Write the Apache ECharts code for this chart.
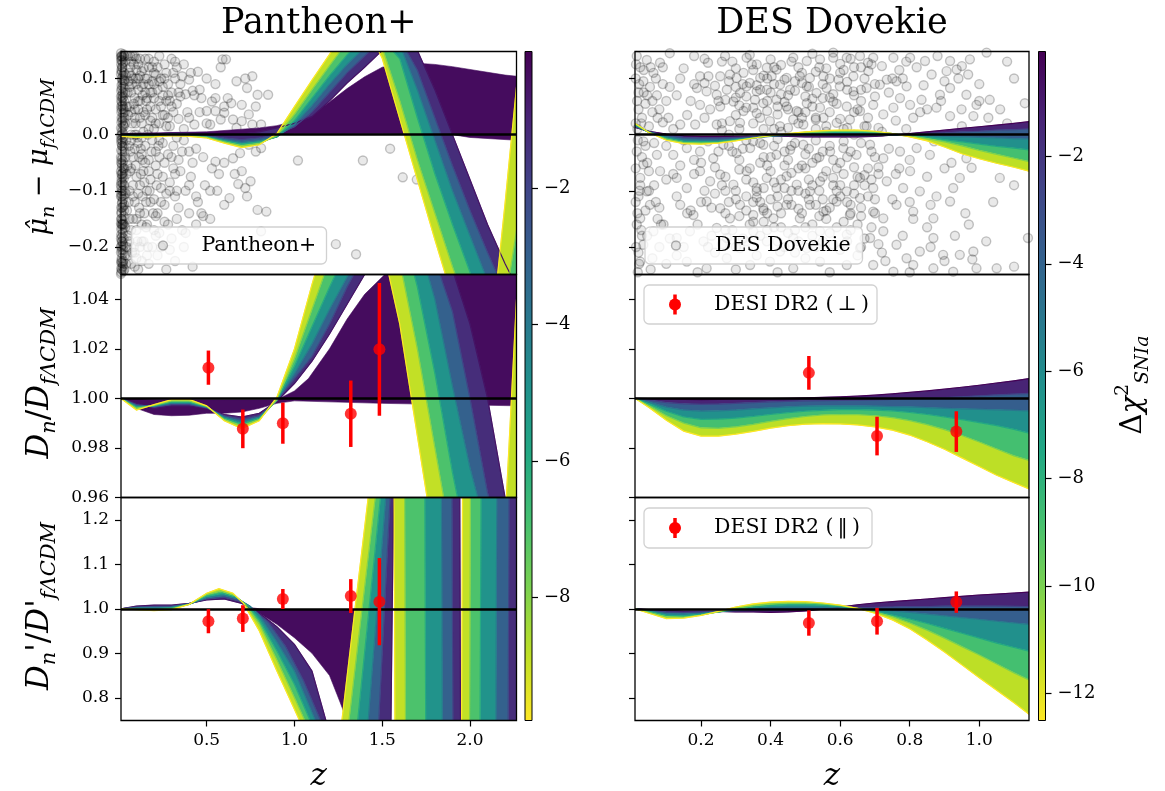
<!DOCTYPE html>
<html>
<head>
<meta charset="utf-8">
<script src="https://cdn.jsdelivr.net/npm/echarts@6/dist/echarts.min.js"></script>
<style>
  html, body { margin: 0; padding: 0; background: #fff; }
  #main { width: 1165px; height: 791px; }
</style>
</head>
<body>
<div id="main"></div>
<script>
// ---------------- data ----------------
const zLeft  = [0.012,0.1,0.2,0.3,0.4,0.5,0.6,0.7,0.8,0.9,1.0,1.1,1.2,1.3,1.4,1.5,1.6,1.7,1.8,1.9,2.0,2.1,2.2,2.265];
const zRight = [0.01,0.05,0.1,0.15,0.2,0.25,0.3,0.35,0.4,0.45,0.5,0.55,0.6,0.65,0.7,0.75,0.8,0.85,0.9,0.95,1.0,1.05,1.1,1.143];

// delta chi2 of the drawn members (yellow -> purple)
const levelsLeft  = [-9.8, -8, -6, -4, -2, -0.5];
const levelsRight = [-12.5, -10, -7.5, -5, -2.5, -0.1];
const massLevel = -0.3;

// Pantheon+ : mu residual, one row per level
const panMu = [
  [-0.003,-0.005,-0.004,-0.002,-0.003,-0.006,-0.015,-0.023,-0.018,0.002,0.05,0.097,0.143,0.19,0.2,0.136,0.028,-0.08,-0.187,-0.29,-0.36,-0.42,-0.122,0.085],
  [-0.002,-0.004,-0.003,-0.001,-0.002,-0.005,-0.013,-0.02,-0.016,-0.002,0.036,0.08,0.123,0.165,0.19,0.155,0.06,-0.045,-0.14,-0.235,-0.32,-0.4,-0.3,-0.17],
  [-0.001,-0.003,-0.002,0.0,-0.001,-0.004,-0.011,-0.017,-0.013,-0.004,0.025,0.065,0.105,0.142,0.175,0.17,0.135,0.03,-0.07,-0.16,-0.245,-0.33,-0.38,-0.4],
  [0.0,-0.002,-0.001,0.001,0.0,-0.003,-0.009,-0.014,-0.011,-0.004,0.018,0.052,0.09,0.125,0.155,0.175,0.16,0.08,-0.01,-0.1,-0.18,-0.26,-0.34,-0.38],
  [0.001,-0.001,0.0,0.002,0.001,-0.002,-0.006,-0.009,-0.006,0.0,0.014,0.04,0.075,0.11,0.14,0.17,0.17,0.115,0.03,-0.055,-0.135,-0.21,-0.28,-0.32],
  [0.002,0.0,0.001,0.003,0.003,0.002,0.0,0.001,0.005,0.012,0.02,0.032,0.06,0.092,0.12,0.15,0.17,0.15,0.08,0.0,-0.08,-0.16,-0.23,-0.27]
];
const panMuMassU = [[0.012,0.002],[0.5,0.005],[0.8,0.012],[0.9,0.016],[1.0,0.024],[1.1,0.035],[1.2,0.058],[1.3,0.082],[1.4,0.103],[1.5,0.12],[1.6,0.126],[1.7,0.127],[1.8,0.125],[1.9,0.121],[2.0,0.116],[2.1,0.111],[2.2,0.106],[2.265,0.104]];
const panMuMassL = [[0.012,-0.002],[0.5,-0.002],[0.8,0.0],[1.0,0.002],[1.5,0.002],[1.9,0.0],[2.0,-0.005],[2.265,-0.01]];

// Pantheon+ : D / D_fLCDM
const panDm = [
  [1.0,0.9953,0.9975,0.9995,0.9996,0.997,0.991,0.9878,0.991,1.0005,1.02,1.046,1.07,1.085,1.08,1.062,1.03,0.985,0.94,0.9,0.87,0.88,0.95,1.04],
  [1.0,0.996,0.9972,0.999,0.999,0.9968,0.9915,0.9888,0.9915,0.9995,1.016,1.036,1.056,1.07,1.08,1.075,1.055,1.02,0.98,0.94,0.91,0.9,0.92,0.96],
  [1.0,0.9965,0.997,0.9985,0.9985,0.9966,0.992,0.9897,0.992,0.9993,1.013,1.029,1.045,1.06,1.072,1.078,1.072,1.045,1.01,0.97,0.935,0.92,0.905,0.91],
  [1.0,0.997,0.9968,0.998,0.998,0.9964,0.9925,0.9905,0.9925,0.9992,1.01,1.022,1.036,1.049,1.062,1.072,1.075,1.065,1.04,1.005,0.972,0.945,0.925,0.92],
  [1.0,0.9975,0.9965,0.9975,0.9975,0.9962,0.993,0.9915,0.993,0.999,1.008,1.017,1.03,1.045,1.058,1.066,1.07,1.068,1.056,1.035,1.0,0.962,0.935,0.93],
  [1.0,0.998,0.996,0.997,0.997,0.996,0.9935,0.9925,0.994,0.9988,1.006,1.015,1.026,1.038,1.05,1.062,1.07,1.072,1.066,1.052,1.03,1.0,0.96,0.94]
];
const panDmMassU = [[0.012,1.0],[0.3,0.9995],[0.6,0.9995],[0.9,0.9995],[1.0,1.003],[1.08,1.008],[1.2,1.02],[1.3,1.032],[1.4,1.042],[1.5,1.049],[1.6,1.056],[1.8,1.06],[2.265,1.06]];
const panDmMassL = [[0.012,1.0],[0.1,0.996],[0.2,0.9935],[0.3,0.993],[0.4,0.9932],[0.5,0.994],[0.6,0.994],[0.7,0.9945],[0.8,0.996],[0.9,0.998],[1.0,0.999],[1.5,0.998],[2.265,0.997]];

// Pantheon+ : D' / D'_fLCDM  ([z, value] pairs, steep parts need their own z)
const panDp = [
  [[0.012,1.0],[0.1,0.998],[0.2,0.996],[0.3,0.998],[0.4,1.01],[0.5,1.035],[0.57,1.045],[0.65,1.035],[0.71,1.012],[0.8,0.95],[0.9,0.86],[0.97,0.8],[1.03,0.748],[1.1,0.6],[1.2,0.6],[1.27,0.748],[1.345,1.0],[1.42,1.25],[1.5,1.5],[1.565,1.5],[1.575,0.5],[1.95,0.5],[1.96,1.5],[2.265,1.5]],
  [[0.012,1.0],[0.1,0.999],[0.2,0.998],[0.3,1.0],[0.4,1.01],[0.5,1.032],[0.58,1.04],[0.66,1.03],[0.72,1.01],[0.8,0.965],[0.9,0.885],[1.0,0.8],[1.06,0.748],[1.12,0.6],[1.24,0.6],[1.31,0.748],[1.385,1.0],[1.46,1.25],[1.52,1.5],[1.625,1.5],[1.635,0.5],[1.995,0.5],[2.005,1.5],[2.265,1.5]],
  [[0.012,1.0],[0.1,1.0],[0.2,1.0],[0.3,1.002],[0.4,1.01],[0.5,1.028],[0.59,1.035],[0.67,1.026],[0.74,1.005],[0.8,0.975],[0.9,0.905],[1.0,0.83],[1.09,0.748],[1.17,0.6],[1.29,0.6],[1.36,0.748],[1.425,1.0],[1.49,1.25],[1.53,1.5],[1.74,1.5],[1.75,0.5],[2.055,0.5],[2.065,1.5],[2.265,1.5]],
  [[0.012,1.0],[0.1,1.002],[0.2,1.003],[0.3,1.004],[0.4,1.011],[0.5,1.025],[0.6,1.03],[0.68,1.022],[0.75,1.005],[0.8,0.985],[0.9,0.925],[1.0,0.86],[1.12,0.748],[1.2,0.6],[1.35,0.6],[1.42,0.748],[1.47,1.0],[1.52,1.25],[1.55,1.5],[1.835,1.5],[1.845,0.5],[2.145,0.5],[2.155,1.5],[2.265,1.5]],
  [[0.012,1.0],[0.1,1.004],[0.2,1.005],[0.3,1.006],[0.4,1.011],[0.5,1.022],[0.6,1.026],[0.69,1.017],[0.76,1.0],[0.85,0.97],[0.95,0.915],[1.05,0.84],[1.15,0.748],[1.23,0.6],[1.42,0.6],[1.48,0.748],[1.513,1.0],[1.545,1.25],[1.56,1.5],[1.895,1.5],[1.905,0.5],[2.215,0.5],[2.225,1.5],[2.265,1.5]],
  [[0.012,1.0],[0.1,1.006],[0.2,1.008],[0.3,1.008],[0.4,1.012],[0.5,1.02],[0.6,1.022],[0.7,1.012],[0.8,0.99],[0.9,0.96],[1.0,0.92],[1.1,0.86],[1.18,0.748],[1.27,0.6],[1.5,0.6],[1.55,0.748],[1.557,1.0],[1.565,1.25],[1.57,1.5],[1.94,1.5],[1.948,0.5],[2.265,0.5]]
];
const panDpMassU = [[0.7,1.005],[0.8,1.0],[1.0,0.998],[1.2,0.997],[1.35,0.998],[1.4,0.95],[1.45,0.748],[1.5,0.6]];
const panDpMassL = [[0.7,1.005],[0.8,0.99],[0.9,0.965],[1.0,0.935],[1.1,0.9],[1.2,0.85],[1.26,0.79],[1.3,0.748],[1.35,0.6]];

// DES Dovekie
const desMu = [
  [0.02,0.004,-0.01,-0.016,-0.017,-0.015,-0.011,-0.006,-0.002,0.002,0.005,0.007,0.008,0.008,0.006,0.002,-0.004,-0.011,-0.022,-0.034,-0.043,-0.051,-0.058,-0.065],
  [0.019,0.004,-0.008,-0.014,-0.015,-0.014,-0.01,-0.006,-0.002,0.001,0.004,0.005,0.006,0.006,0.005,0.002,-0.002,-0.007,-0.013,-0.02,-0.028,-0.035,-0.042,-0.048],
  [0.017,0.004,-0.006,-0.012,-0.013,-0.012,-0.009,-0.006,-0.002,0.0,0.002,0.003,0.004,0.004,0.003,0.001,-0.002,-0.005,-0.009,-0.013,-0.017,-0.021,-0.024,-0.027],
  [0.016,0.005,-0.004,-0.009,-0.01,-0.01,-0.008,-0.005,-0.003,-0.001,0.0,0.001,0.001,0.001,0.0,-0.001,-0.002,-0.002,-0.003,-0.004,-0.005,-0.006,-0.007,-0.008],
  [0.014,0.005,-0.001,-0.005,-0.006,-0.006,-0.005,-0.004,-0.003,-0.002,-0.002,-0.002,-0.002,-0.002,-0.002,-0.001,0.0,0.002,0.003,0.005,0.006,0.008,0.009,0.01],
  [0.013,0.006,0.001,-0.002,-0.003,-0.003,-0.003,-0.003,-0.003,-0.003,-0.004,-0.004,-0.004,-0.004,-0.003,-0.001,0.002,0.005,0.008,0.011,0.014,0.017,0.02,0.023]
];
const desDm = [
  [1.0,0.9963,0.9912,0.9868,0.9848,0.9848,0.9856,0.9867,0.988,0.989,0.9896,0.9898,0.9897,0.9893,0.9885,0.9872,0.9852,0.9825,0.9795,0.976,0.9725,0.969,0.966,0.9635],
  [1.0,0.997,0.993,0.99,0.9881,0.9879,0.9885,0.9895,0.9907,0.9918,0.9927,0.9933,0.9935,0.9934,0.993,0.9922,0.991,0.9894,0.9874,0.985,0.9824,0.9796,0.9768,0.975],
  [1.0,0.9978,0.9948,0.9925,0.9915,0.9916,0.992,0.9927,0.9935,0.9942,0.9948,0.9952,0.9955,0.9955,0.9953,0.9949,0.9943,0.9935,0.9925,0.9914,0.9902,0.989,0.9875,0.986],
  [1.0,0.9985,0.9965,0.9953,0.9949,0.995,0.9953,0.9958,0.9962,0.9966,0.9969,0.997,0.997,0.997,0.9969,0.9967,0.9966,0.9963,0.996,0.9958,0.9956,0.9954,0.9952,0.995],
  [1.0,0.9993,0.9983,0.9978,0.9976,0.9977,0.998,0.9983,0.9986,0.9988,0.999,0.9991,0.9992,0.9993,0.9994,0.9996,0.9998,1.0,1.0003,1.0006,1.001,1.0014,1.0017,1.002],
  [1.0,0.9999,0.9997,0.9996,0.9995,0.9996,0.9997,0.9998,0.9999,1.0,1.0002,1.0004,1.0006,1.0009,1.0013,1.0018,1.0024,1.003,1.0037,1.0045,1.0053,1.0062,1.0071,1.008]
];
const desDp = [
  [1.0,0.99,0.978,0.979,0.985,0.994,1.004,1.011,1.015,1.0165,1.016,1.013,1.008,1.001,0.99,0.975,0.955,0.93,0.903,0.874,0.845,0.817,0.789,0.763],
  [1.0,0.992,0.982,0.981,0.986,0.993,1.001,1.007,1.011,1.013,1.013,1.011,1.007,1.001,0.993,0.982,0.968,0.952,0.934,0.915,0.896,0.876,0.856,0.84],
  [1.0,0.994,0.985,0.984,0.988,0.993,0.999,1.004,1.007,1.009,1.009,1.008,1.005,1.0,0.994,0.986,0.977,0.967,0.956,0.945,0.934,0.923,0.913,0.905],
  [1.0,0.995,0.989,0.988,0.99,0.993,0.997,1.0,1.002,1.003,1.003,1.003,1.002,1.0,0.998,0.995,0.992,0.988,0.984,0.98,0.976,0.972,0.968,0.965],
  [1.0,0.997,0.993,0.992,0.993,0.994,0.995,0.996,0.997,0.998,0.999,1.0,1.001,1.002,1.003,1.004,1.005,1.005,1.006,1.006,1.006,1.006,1.0055,1.005],
  [1.0,0.998,0.996,0.995,0.995,0.994,0.993,0.993,0.992,0.993,0.995,0.999,1.004,1.009,1.013,1.016,1.019,1.022,1.025,1.028,1.031,1.033,1.0355,1.0375]
];

// DESI DR2 BAO ratios
const desiZ = [0.51, 0.706, 0.934, 1.321, 1.484];
const panPerp = [1.0124, 0.9877, 0.990, 0.9938, 1.0198];
const panPerpErr = [0.0069, 0.0078, 0.0083, 0.0134, 0.0268];
const panPar = [0.972, 0.978, 1.022, 1.0286, 1.016];
const panParErr = [0.027, 0.03, 0.0225, 0.038, 0.098];
const desPerp = [1.0103, 0.9848, 0.9866];
const desPerpErr = [0.0068, 0.0078, 0.0082];
const desPar = [0.968, 0.972, 1.015];
const desParErr = [0.0285, 0.03, 0.024];

// SN residuals [z, mu_hat - mu]
const pantheonPts = [
  [0.014,0.14],[0.02,0.12],[0.016,0.1],[0.025,0.085],[0.018,0.07],[0.03,0.06],[0.015,0.045],[0.022,0.03],[0.028,0.015],[0.017,0.005],[0.024,-0.005],[0.019,-0.02],[0.032,-0.03],[0.015,-0.045],[0.026,-0.06],[0.02,-0.075],[0.03,-0.09],[0.016,-0.1],[0.023,-0.115],[0.018,-0.13],[0.027,-0.145],[0.015,-0.16],[0.022,-0.175],[0.019,-0.19],[0.025,-0.205],[0.016,-0.22],[0.021,-0.235],[0.014,-0.245],
  [0.035,0.13],[0.04,0.105],[0.038,0.075],[0.045,0.05],[0.036,0.02],[0.042,-0.01],[0.037,-0.04],[0.044,-0.07],[0.039,-0.105],[0.046,-0.135],[0.036,-0.165],[0.043,-0.2],[0.04,-0.23],
  [0.05,0.14],[0.055,0.095],[0.052,0.035],[0.058,-0.02],[0.05,-0.055],[0.056,-0.12],[0.053,-0.18],[0.048,-0.215],
  [0.013,0.125],[0.013,0.06],[0.013,-0.01],[0.013,-0.085],[0.013,-0.15],[0.013,-0.2],[0.029,0.11],[0.031,-0.125],[0.027,-0.185],[0.033,0.04],[0.034,-0.215],
  [0.014,0.132],[0.017,0.112],[0.021,0.092],[0.013,0.078],[0.019,0.052],[0.024,0.038],[0.014,0.022],[0.02,0.012],[0.016,-0.008],[0.013,-0.028],[0.021,-0.04],[0.017,-0.058],[0.014,-0.07],[0.022,-0.088],[0.013,-0.105],[0.019,-0.12],[0.015,-0.138],[0.021,-0.152],[0.013,-0.168],[0.018,-0.182],[0.014,-0.198],[0.02,-0.212],[0.013,-0.228],[0.017,-0.24],
  [0.026,0.143],[0.023,0.128],[0.027,0.097],[0.024,0.067],[0.026,0.046],[0.023,0.002],[0.027,-0.022],[0.024,-0.048],[0.028,-0.078],[0.025,-0.108],[0.029,-0.135],[0.024,-0.158],[0.028,-0.198],[0.025,-0.225],[0.026,-0.243],
  [0.012,0.145],[0.015,0.133],[0.018,0.12],[0.012,0.108],[0.02,0.097],[0.015,0.088],[0.012,0.068],[0.018,0.058],[0.014,0.04],[0.02,0.025],[0.012,0.012],[0.016,0.0],[0.014,-0.015],[0.02,-0.03],[0.012,-0.04],[0.017,-0.052],[0.012,-0.065],[0.019,-0.085],[0.014,-0.095],[0.012,-0.11],[0.017,-0.122],[0.014,-0.14],[0.012,-0.158],[0.02,-0.168],[0.013,-0.178],[0.016,-0.19],[0.012,-0.21],[0.018,-0.228],[0.013,-0.238],[0.012,-0.248],
  [0.022,0.138],[0.024,0.105],[0.023,0.075],[0.022,0.05],[0.024,0.018],[0.022,-0.012],[0.023,-0.068],[0.022,-0.1],[0.024,-0.128],[0.022,-0.16],[0.023,-0.195],[0.024,-0.23],
  [0.012,0.138],[0.014,0.115],[0.016,0.082],[0.013,0.05],[0.015,0.03],[0.012,-0.002],[0.018,-0.02],[0.013,-0.05],[0.015,-0.078],[0.012,-0.09],[0.016,-0.11],[0.013,-0.13],[0.015,-0.15],[0.012,-0.185],[0.016,-0.205],[0.014,-0.225],[0.017,0.14],[0.019,0.065],[0.018,-0.07],[0.019,-0.16],[0.03,0.14],[0.032,0.095],[0.03,0.03],[0.031,-0.06],[0.032,-0.1],[0.03,-0.16],[0.031,-0.24],
  [0.07,0.13],[0.09,0.14],[0.11,0.125],[0.13,0.113],[0.15,0.135],[0.17,0.12],[0.2,0.13],[0.23,0.14],[0.26,0.125],[0.3,0.135],[0.33,0.12],[0.08,0.1],[0.1,0.09],[0.12,0.105],[0.14,0.09],[0.16,0.1],[0.19,0.095],[0.21,0.107],[0.24,0.1],[0.28,0.09],[0.32,0.1],[0.36,0.104],[0.4,0.098],[0.45,0.112],[0.5,0.1],[0.55,0.09],[0.59,0.134],[0.61,0.134],[0.58,0.12],[0.67,0.095],[0.72,0.1],[0.76,0.104],
  [0.07,0.075],[0.09,0.065],[0.11,0.08],[0.135,0.07],[0.155,0.06],[0.18,0.075],[0.2,0.065],[0.22,0.08],[0.25,0.07],[0.27,0.06],[0.3,0.075],[0.35,0.068],[0.38,0.072],[0.42,0.078],[0.47,0.065],[0.53,0.059],[0.6,0.05],[0.64,0.056],[0.7,0.053],[0.78,0.05],[0.79,0.071],[0.85,0.071],[0.73,0.083],[0.62,0.065],
  [0.07,0.04],[0.09,0.03],[0.11,0.045],[0.13,0.02],[0.15,0.035],[0.17,0.01],[0.19,0.03],[0.21,0.045],[0.23,0.02],[0.26,0.035],[0.29,0.015],[0.31,0.04],[0.34,0.028],[0.37,0.01],[0.4,0.03],[0.43,0.018],[0.46,0.04],[0.5,0.042],[0.55,0.042],[0.6,0.039],[0.65,0.027],[0.7,0.024],[0.74,0.036],[0.76,0.018],[0.81,0.018],[0.67,0.012],[0.52,0.018],[0.58,0.027],
  [0.07,-0.01],[0.09,-0.025],[0.11,-0.015],[0.13,-0.035],[0.15,-0.02],[0.17,-0.045],[0.19,-0.01],[0.21,-0.03],[0.23,-0.04],[0.25,-0.015],[0.28,-0.035],[0.31,-0.02],[0.34,-0.045],[0.37,-0.01],[0.4,-0.03],[0.44,-0.025],[0.48,-0.04],[0.55,-0.048],[0.6,-0.05],[0.65,-0.042],[0.69,-0.033],[0.74,-0.018],[0.78,-0.03],[0.81,-0.024],[1.02,-0.046],
  [0.07,-0.06],[0.1,-0.075],[0.12,-0.09],[0.14,-0.065],[0.16,-0.1],[0.18,-0.08],[0.2,-0.115],[0.22,-0.07],[0.24,-0.095],[0.26,-0.125],[0.29,-0.085],[0.32,-0.11],[0.35,-0.065],[0.38,-0.1],[0.41,-0.075],[0.45,-0.12],[0.49,-0.09],[0.53,-0.06],[0.56,-0.1],[0.6,-0.125],[0.63,-0.113],[0.66,-0.07],[0.7,-0.065],[0.72,-0.095],[0.75,-0.083],[0.79,-0.134],[0.84,-0.137],[0.73,-0.11],[0.68,-0.088],[1.39,-0.046],[1.545,-0.025],[1.617,-0.076],[1.697,-0.08],
  [0.08,-0.15],[0.1,-0.17],[0.12,-0.14],[0.14,-0.19],[0.16,-0.16],[0.19,-0.2],[0.21,-0.145],[0.23,-0.175],[0.26,-0.155],[0.3,-0.185],[0.33,-0.15],[0.36,-0.17],[0.4,-0.14],[0.44,-0.16],[0.48,-0.145],[0.52,-0.15],[0.09,-0.21],[0.13,-0.225],[0.17,-0.23],[0.22,-0.215],[0.27,-0.24],[0.32,-0.225],[0.37,-0.2],[0.42,-0.235],[0.11,-0.24],[0.81,-0.172],[1.236,-0.195],[1.351,-0.213],[0.29,-0.205],[0.06,-0.19],
  [0.065,0.12],[0.075,0.09],[0.085,0.055],[0.095,0.02],[0.105,-0.005],[0.115,-0.04],[0.125,-0.07],[0.135,-0.11],[0.145,-0.14],[0.155,-0.165],[0.165,-0.2],[0.06,0.05],[0.065,-0.03],[0.08,-0.09],[0.09,-0.12],[0.1,-0.15],[0.11,0.06],[0.12,0.03],[0.13,-0.005],[0.14,0.118],[0.15,0.075],[0.16,0.045],[0.17,-0.065],[0.18,-0.12],[0.19,0.12],[0.2,0.01],[0.21,-0.055],[0.22,-0.14],[0.23,0.095],[0.24,0.05],[0.25,-0.075],[0.26,0.1],[0.27,0.015],[0.28,-0.16],[0.29,0.06],[0.3,-0.04],[0.31,0.11],[0.32,-0.07],[0.33,0.055],[0.34,-0.13],[0.35,0.09],[0.36,-0.03],[0.37,0.125],[0.38,-0.175],[0.39,0.04],[0.4,-0.09],[0.41,0.11],[0.42,-0.05],[0.43,0.07],[0.44,-0.11],[0.46,0.08],[0.47,-0.14],[0.5,0.02],[0.52,-0.1],[0.55,0.065],[0.57,-0.07],
  [0.08,0.14],[0.1,0.115],[0.12,0.135],[0.17,0.09],[0.2,0.11],[0.25,0.035],[0.11,-0.105],[0.13,-0.16],[0.15,-0.05],[0.18,0.025],[0.21,-0.18],[0.27,-0.105],[0.07,-0.17],[0.09,0.0],[0.14,0.005],[0.23,-0.01],[0.28,0.07],[0.33,-0.005],[0.05,0.075],[0.06,-0.1],[0.07,0.0],[0.08,-0.04],[0.06,0.11],[0.075,-0.21],[0.09,-0.235],[0.12,-0.2],
  [0.06,0.085],[0.065,-0.065],[0.07,0.105],[0.075,0.02],[0.08,-0.11],[0.085,0.125],[0.09,0.045],[0.095,-0.055],[0.1,0.135],[0.1,0.0],[0.105,-0.19],[0.11,0.1],[0.115,-0.13],[0.12,0.06],[0.125,-0.025],[0.13,0.085],[0.135,-0.045],[0.14,0.04],[0.145,-0.085],[0.15,0.1],[0.155,-0.12],[0.16,0.065],[0.165,0.0],[0.17,0.135],[0.175,-0.1],[0.18,0.05],[0.185,-0.03],[0.19,0.075],[0.195,-0.14],[0.2,0.09],[0.21,0.02],[0.215,-0.09],[0.22,0.12],[0.225,-0.02],[0.23,0.06],[0.24,-0.12],[0.25,0.085],[0.26,-0.05],[0.27,0.11],[0.28,0.03],[0.29,-0.1],[0.3,0.05],[0.31,-0.06],[0.32,0.13],[0.33,-0.1],[0.34,0.075],[0.06,-0.15],[0.07,-0.23],[0.085,-0.2],[0.1,-0.22],[0.13,-0.19],[0.16,-0.215],[0.2,-0.17],[0.24,-0.2],[0.065,0.14],[0.095,0.1]
];
const dovekiePts = [
  [0.269,0.14],[0.331,0.137],[0.36,0.125],[0.346,0.125],[0.389,0.119],[0.417,0.116],[0.465,0.137],[0.504,0.131],[0.542,0.134],[0.58,0.137],[0.619,0.137],[0.657,0.14],[0.695,0.137],[0.753,0.137],[0.801,0.137],[0.844,0.131],[0.916,0.131],[0.973,0.134],[1.021,0.146],[0.935,0.116],[0.968,0.107],[0.906,0.113],[0.863,0.107],[0.082,0.128],
  [0.197,0.104],[0.221,0.104],[0.255,0.104],[0.283,0.107],[0.302,0.101],[0.322,0.11],[0.37,0.101],[0.403,0.104],[0.446,0.101],[0.484,0.104],[0.513,0.101],[0.552,0.104],[0.595,0.098],[0.638,0.104],[0.681,0.113],[0.734,0.098],[0.762,0.095],
  [0.188,0.083],[0.216,0.077],[0.245,0.071],[0.274,0.08],[0.312,0.074],[0.331,0.086],[0.36,0.077],[0.389,0.08],[0.427,0.089],[0.456,0.08],[0.504,0.086],[0.532,0.074],[0.561,0.083],[0.599,0.086],[0.638,0.077],[0.676,0.083],[0.714,0.089],[0.791,0.086],[0.887,0.071],[0.916,0.083],[0.963,0.071],[1.03,0.062],[1.131,0.056],[0.992,0.053],[0.949,0.045],[0.877,0.048],[0.834,0.062],[0.801,0.053],[0.772,0.065],
  [0.14,0.018],[0.183,0.018],[0.106,0.03],[0.197,0.053],[0.226,0.045],[0.255,0.05],[0.293,0.059],[0.322,0.042],[0.35,0.048],[0.379,0.056],[0.417,0.062],[0.446,0.05],[0.475,0.042],[0.504,0.056],[0.542,0.048],[0.58,0.059],[0.619,0.05],[0.657,0.042],[0.695,0.053],[0.724,0.036],[0.753,0.048],[0.81,0.03],[0.983,0.033],[1.026,0.03],[0.916,0.033],
  [0.245,0.018],[0.283,0.024],[0.312,0.021],[0.37,0.03],[0.398,0.024],[0.427,0.015],[0.465,0.027],[0.494,0.018],[0.552,0.03],[0.59,0.021],[0.628,0.027],[0.676,0.015],
  [0.015,0.14],[0.025,0.12],[0.044,0.133],[0.063,0.11],[0.034,0.095],[0.053,0.085],[0.073,0.07],[0.02,0.075],[0.04,0.055],[0.06,0.04],[0.03,0.03],[0.05,0.015],[0.08,0.045],[0.017,0.01],[0.07,0.1],[0.09,0.09],[0.1,0.06],
  [0.034,-0.012],[0.073,-0.036],[0.034,-0.053],[0.025,-0.077],[0.044,-0.101],[0.053,-0.125],[0.025,-0.149],[0.063,-0.172],[0.034,-0.196],[0.025,-0.226],
  [0.015,-0.03],[0.05,-0.065],[0.02,-0.11],[0.065,-0.09],[0.015,-0.16],[0.045,-0.18],[0.02,-0.21],[0.055,-0.24],[0.075,-0.15],[0.08,-0.2],[0.04,-0.02],[0.018,-0.245],
  [0.12,-0.036],[0.159,-0.024],[0.197,-0.03],[0.235,-0.042],[0.264,-0.018],[0.302,-0.033],[0.341,-0.024],[0.379,-0.018],[0.417,-0.036],[0.456,-0.027],[0.494,-0.018],[0.532,-0.042],[0.571,-0.03],[0.609,-0.024],[0.647,-0.036],[0.686,-0.018],[0.724,-0.042],[0.772,-0.03],[0.82,-0.024],[0.858,-0.036],[0.935,-0.018],[0.963,-0.042],
  [0.082,-0.065],[0.13,-0.077],[0.159,-0.095],[0.197,-0.065],[0.226,-0.083],[0.255,-0.071],[0.293,-0.089],[0.331,-0.065],[0.36,-0.101],[0.389,-0.077],[0.417,-0.095],[0.446,-0.074],[0.475,-0.089],[0.513,-0.101],[0.542,-0.083],[0.58,-0.077],[0.619,-0.101],[0.657,-0.077],[0.695,-0.095],[0.734,-0.083],[0.781,-0.095],[0.829,-0.101],[0.877,-0.11],[0.925,-0.095],[1.059,-0.077],[0.978,-0.059],[0.944,-0.077],[0.801,-0.065],
  [0.14,-0.125],[0.178,-0.143],[0.216,-0.119],[0.255,-0.131],[0.283,-0.149],[0.312,-0.125],[0.35,-0.143],[0.379,-0.131],[0.408,-0.149],[0.446,-0.125],[0.484,-0.149],[0.513,-0.125],[0.552,-0.137],[0.59,-0.119],[0.628,-0.143],[0.657,-0.113],[0.695,-0.137],[0.724,-0.149],[0.762,-0.125],[0.81,-0.137],[0.868,-0.149],[0.916,-0.119],
  [0.092,-0.16],[0.13,-0.184],[0.168,-0.172],[0.207,-0.19],[0.245,-0.166],[0.274,-0.184],[0.312,-0.202],[0.35,-0.172],[0.389,-0.19],[0.427,-0.208],[0.465,-0.184],[0.504,-0.202],[0.542,-0.172],[0.58,-0.196],[0.619,-0.178],[0.657,-0.202],[0.686,-0.184],[0.724,-0.172],[0.762,-0.196],[0.791,-0.22],[0.829,-0.208],[0.868,-0.184],[0.896,-0.214],[0.944,-0.214],[0.983,-0.208],[1.14,-0.184],[0.992,-0.238],[1.05,-0.238],
  [0.159,-0.226],[0.216,-0.238],[0.274,-0.22],[0.341,-0.232],[0.398,-0.226],[0.465,-0.238],[0.542,-0.226],[0.619,-0.232],[0.695,-0.232],[0.753,-0.244],[0.81,-0.232],[0.868,-0.238],[0.925,-0.244],
  [0.32,0.09],[0.355,0.062],[0.39,0.1],[0.43,0.072],[0.47,0.095],[0.5,0.068],[0.53,0.112],[0.57,0.066],[0.61,0.115],[0.64,0.07],[0.36,0.038],[0.41,0.01],[0.45,0.045],[0.49,0.03],[0.53,0.01],[0.57,0.04],[0.62,0.012],[0.66,0.06],
  [0.33,-0.01],[0.37,-0.05],[0.4,-0.04],[0.44,-0.055],[0.48,-0.06],[0.52,-0.05],[0.56,-0.065],[0.6,-0.05],[0.64,-0.058],[0.68,-0.06],[0.33,-0.11],[0.37,-0.12],[0.42,-0.11],[0.46,-0.1],[0.5,-0.105],[0.55,-0.115],[0.59,-0.1],[0.63,-0.125],[0.67,-0.09],[0.7,-0.115],
  [0.34,-0.16],[0.38,-0.155],[0.43,-0.165],[0.47,-0.17],[0.52,-0.16],[0.56,-0.15],[0.61,-0.155],[0.65,-0.16],[0.27,-0.1],[0.25,0.06],[0.29,0.13],[0.22,-0.2],[0.58,0.146],[0.66,0.12],
  [0.18,0.14],[0.22,0.128],[0.3,0.118],[0.34,0.142],[0.4,0.134],[0.43,0.124],[0.48,0.12],[0.52,0.144],[0.56,0.118],[0.6,0.126],[0.64,0.12],[0.68,0.128],[0.72,0.122],[0.77,0.115],[0.82,0.12],[0.88,0.14],[0.95,0.122],[1.08,0.13],[0.11,0.145],[0.15,0.118],
  [0.17,0.06],[0.21,0.092],[0.24,0.087],[0.27,0.062],[0.3,0.066],[0.34,0.092],[0.37,0.08],[0.41,0.09],[0.44,0.058],[0.47,0.078],[0.49,0.092],[0.52,0.064],[0.55,0.09],[0.58,0.072],[0.62,0.094],[0.66,0.08],[0.7,0.068],[0.74,0.075],[0.78,0.1],[0.84,0.088],[0.9,0.095],[1.0,0.09],[1.1,0.1],[0.13,0.07],[0.06,0.06],
  [0.16,0.035],[0.21,0.03],[0.26,0.008],[0.3,0.035],[0.33,0.048],[0.39,0.042],[0.42,0.036],[0.45,0.012],[0.5,0.04],[0.53,0.027],[0.56,0.015],[0.6,0.028],[0.64,0.04],[0.68,0.03],[0.71,0.012],[0.76,0.025],[0.79,0.01],[0.85,0.045],[0.95,0.015],[1.06,0.045],[0.12,0.01],[0.09,0.022],
  [0.15,-0.01],[0.18,-0.045],[0.22,-0.012],[0.25,-0.03],[0.28,-0.02],[0.31,-0.045],[0.35,-0.012],[0.38,-0.04],[0.42,-0.008],[0.44,-0.03],[0.47,-0.015],[0.5,-0.035],[0.53,-0.01],[0.55,-0.03],[0.58,-0.045],[0.61,-0.012],[0.63,-0.03],[0.66,-0.015],[0.7,-0.04],[0.74,-0.025],[0.8,-0.045],[0.87,-0.012],[1.0,-0.03],[1.1,-0.02],[0.1,-0.02],
  [0.14,-0.055],[0.18,-0.07],[0.21,-0.1],[0.24,-0.058],[0.27,-0.075],[0.31,-0.062],[0.35,-0.085],[0.38,-0.095],[0.4,-0.065],[0.43,-0.08],[0.46,-0.068],[0.49,-0.055],[0.52,-0.09],[0.55,-0.075],[0.58,-0.09],[0.61,-0.07],[0.64,-0.09],[0.67,-0.072],[0.71,-0.058],[0.76,-0.07],[0.85,-0.075],[0.9,-0.06],[1.1,-0.09],[0.1,-0.08],
  [0.13,-0.11],[0.17,-0.135],[0.2,-0.12],[0.24,-0.105],[0.27,-0.14],[0.3,-0.115],[0.33,-0.135],[0.36,-0.112],[0.39,-0.14],[0.42,-0.128],[0.45,-0.115],[0.48,-0.132],[0.51,-0.115],[0.54,-0.145],[0.57,-0.13],[0.6,-0.11],[0.63,-0.14],[0.66,-0.13],[0.7,-0.14],[0.75,-0.115],[0.8,-0.12],[0.86,-0.125],[0.96,-0.14],[0.08,-0.13],
  [0.15,-0.2],[0.19,-0.16],[0.23,-0.18],[0.26,-0.195],[0.29,-0.17],[0.32,-0.185],[0.37,-0.18],[0.41,-0.165],[0.44,-0.2],[0.48,-0.19],[0.52,-0.18],[0.55,-0.19],[0.59,-0.165],[0.62,-0.19],[0.67,-0.185],[0.71,-0.195],[0.78,-0.18],[0.85,-0.165],[0.93,-0.18],[1.02,-0.19],[0.11,-0.185],
  [0.13,-0.215],[0.19,-0.245],[0.24,-0.21],[0.3,-0.24],[0.36,-0.215],[0.42,-0.245],[0.5,-0.22],[0.57,-0.245],[0.65,-0.215],[0.73,-0.225],[0.8,-0.245],[0.9,-0.225],[0.98,-0.222],[1.1,-0.235],
  [0.012,0.1],[0.02,0.045],[0.03,-0.04],[0.012,-0.12],[0.028,-0.17],[0.04,-0.135],[0.035,0.115],[0.06,-0.22],[0.012,0.02],[0.045,0.07],[0.025,-0.09],[0.07,-0.12],
  [0.26,0.13],[0.28,0.095],[0.3,0.085],[0.31,0.052],[0.33,0.068],[0.35,0.115],[0.36,0.088],[0.38,0.105],[0.39,0.06],[0.4,0.075],[0.41,0.12],[0.42,0.05],[0.44,0.098],[0.45,0.07],[0.46,0.13],[0.48,0.04],[0.49,0.11],[0.51,0.085],[0.52,0.05],[0.54,0.12],[0.55,0.065],[0.57,0.1],[0.59,0.055],[0.6,0.11],[0.62,0.08],[0.63,0.135],[0.65,0.045],[0.67,0.1],[0.69,0.125],[0.7,0.09],
  [0.26,0.02],[0.28,0.0],[0.29,-0.03],[0.31,0.01],[0.32,-0.025],[0.34,-0.06],[0.35,0.02],[0.37,-0.015],[0.38,0.01],[0.39,-0.055],[0.41,-0.02],[0.43,0.005],[0.45,-0.045],[0.46,-0.02],[0.48,0.02],[0.5,-0.06],[0.51,-0.025],[0.53,0.03],[0.54,-0.04],[0.56,0.005],[0.57,-0.02],[0.59,-0.06],[0.61,0.01],[0.62,-0.04],[0.64,0.0],[0.65,-0.075],[0.67,0.015],[0.69,-0.03],[0.71,-0.07],[0.72,0.005],
  [0.26,-0.09],[0.28,-0.12],[0.3,-0.1],[0.31,-0.145],[0.33,-0.08],[0.35,-0.12],[0.36,-0.095],[0.38,-0.135],[0.4,-0.115],[0.41,-0.085],[0.43,-0.14],[0.44,-0.095],[0.46,-0.125],[0.48,-0.1],[0.49,-0.14],[0.51,-0.08],[0.53,-0.125],[0.54,-0.1],[0.56,-0.135],[0.58,-0.115],[0.6,-0.09],[0.62,-0.12],[0.64,-0.105],[0.66,-0.145],[0.68,-0.11],[0.69,-0.08],
  [0.27,-0.17],[0.3,-0.2],[0.33,-0.19],[0.35,-0.155],[0.39,-0.17],[0.42,-0.19],[0.45,-0.175],[0.47,-0.21],[0.5,-0.165],[0.53,-0.2],[0.57,-0.175],[0.6,-0.205],[0.63,-0.17],[0.66,-0.2],[0.69,-0.165],[0.72,-0.21],
  [0.013,0.125],[0.022,0.09],[0.016,0.06],[0.028,0.02],[0.018,-0.01],[0.012,-0.06],[0.023,-0.1],[0.017,-0.14],[0.03,-0.18],[0.013,-0.2],[0.022,-0.23],[0.035,0.075],[0.045,-0.05],[0.05,-0.1],[0.055,0.12],[0.065,-0.015],[0.075,0.03],[0.085,-0.16],[0.09,0.12],[0.1,-0.23],[0.11,0.085],[0.12,-0.07],[0.14,0.1],[0.16,-0.14],[0.18,0.09],[0.2,-0.05],[0.21,0.135],[0.23,-0.13],
  [0.75,0.1],[0.77,-0.06],[0.79,0.13],[0.81,-0.15],[0.83,0.04],[0.86,-0.2],[0.89,0.06],[0.92,-0.05],[0.94,0.1],[0.97,-0.16],[1.0,0.06],[1.04,-0.12],[1.08,0.02],[1.12,-0.05]
];

// ---------------- layout / style ----------------
const FONT = 'DejaVu Serif';
const colL = { left: 121, width: 395.5, x: [0.012, 2.265], ticks: [0.5, 1.0, 1.5, 2.0] };
const colR = { left: 635, width: 394, x: [0.01, 1.143], ticks: [0.2, 0.4, 0.6, 0.8, 1.0] };
const rowTop = [51.5, 274.5, 497.5], rowH = 223;
const yRange = [[-0.249, 0.148], [0.96, 1.05], [0.749, 1.25]];
const yTicks = [[-0.2, -0.1, 0.0, 0.1], [0.96, 0.98, 1.0, 1.02, 1.04], [0.8, 0.9, 1.0, 1.1, 1.2]];
const yDec = [1, 2, 1];
const refVal = [0, 1, 1];
const cbL = { left: 525, range: [-9.8, 0], ticks: [-8, -6, -4, -2] };
const cbR = { left: 1038.5, range: [-12.5, -0.05], ticks: [-12, -10, -8, -6, -4, -2] };

const VIRIDIS = ['#440154','#482475','#414487','#355f8d','#2a788e','#21918c','#22a884','#44bf70','#7ad151','#bddf26','#fde725'];
function rgb(h) { return [parseInt(h.slice(1,3),16), parseInt(h.slice(3,5),16), parseInt(h.slice(5,7),16)]; }
// reversed viridis: values near the top of the bar (close to 0) are purple
function cmap(v, lo, hi) {
  let t = (hi - v) / (hi - lo);
  t = Math.max(0, Math.min(1, t));
  const f = t * 10, i = Math.min(9, Math.floor(f)), w = f - i;
  const a = rgb(VIRIDIS[i]), b = rgb(VIRIDIS[i + 1]);
  return 'rgb(' + a.map((c, k) => Math.round(c + (b[k] - c) * w)).join(',') + ')';
}
function fmt(v, d) { return (v < 0 ? '\u2212' : '') + Math.abs(v).toFixed(d); }
function pairs(zs, vs) { return vs.map((v, i) => [zs[i], v]); }

function panelShapes(curves, levels, range, massU, massL) {
  const shapes = [];
  if (massU) shapes.push({ kind: 'polygon', pts: massU.concat(massL.slice().reverse()), color: cmap(massLevel, range[0], range[1]) });
  for (let k = curves.length - 2; k >= 0; k--) {
    shapes.push({ kind: 'polygon', pts: curves[k].concat(curves[k + 1].slice().reverse()),
      color: cmap((levels[k] + levels[k + 1]) / 2, range[0], range[1]) });
  }
  for (let k = curves.length - 1; k >= 0; k--) {
    shapes.push({ kind: 'polyline', pts: curves[k], color: cmap(levels[k], range[0], range[1]) });
  }
  return shapes;
}

function curveSeries(idx, shapes) {
  return {
    type: 'custom', xAxisIndex: idx, yAxisIndex: idx, clip: true, silent: true, z: 3,
    data: shapes.map((s, i) => [i]),
    renderItem: (params, api) => {
      const s = shapes[params.dataIndex];
      const pts = s.pts.map(p => api.coord(p));
      if (s.kind === 'polygon') {
        return { type: 'polygon', shape: { points: pts }, style: { fill: s.color, stroke: s.color, lineWidth: 0.6 } };
      }
      return { type: 'polyline', shape: { points: pts }, style: { fill: 'none', stroke: s.color, lineWidth: 1.2 } };
    }
  };
}

function errSeries(idx, zs, vs, es) {
  return [{
    type: 'custom', xAxisIndex: idx, yAxisIndex: idx, silent: true, z: 8,
    data: zs.slice(0, vs.length).map((z, i) => [z, vs[i] - es[i], vs[i] + es[i]]),
    encode: { x: 0, y: [1, 2] },
    renderItem: (params, api) => {
      const a = api.coord([api.value(0), api.value(1)]);
      const b = api.coord([api.value(0), api.value(2)]);
      return { type: 'line', shape: { x1: a[0], y1: a[1], x2: b[0], y2: b[1] }, style: { stroke: '#ff0000', lineWidth: 3.5 } };
    }
  }, {
    type: 'scatter', xAxisIndex: idx, yAxisIndex: idx, silent: true, z: 9,
    data: pairs(zs, vs), symbolSize: 12, itemStyle: { color: '#ff0000' }
  }];
}

function refSeries(idx, v) {
  return {
    type: 'line', xAxisIndex: idx, yAxisIndex: idx, data: [], z: 6, silent: true,
    markLine: { silent: true, symbol: ['none', 'none'], label: { show: false }, animation: false,
      lineStyle: { color: '#000', width: 2.6, type: 'solid' }, data: [{ yAxis: v }] }
  };
}

// ---------------- grids & axes ----------------
const grids = [], xAxes = [], yAxes = [];
[colL, colR].forEach((col, c) => {
  for (let r = 0; r < 3; r++) {
    const idx = c * 3 + r;
    grids.push({ left: col.left, top: rowTop[r], width: col.width, height: rowH, show: false, outerBoundsMode: 'none' });
    const bottomRow = r === 2;
    xAxes.push({
      type: 'value', gridIndex: idx, min: col.x[0], max: col.x[1],
      axisLine: { show: false }, splitLine: { show: false },
      axisTick: { show: bottomRow, customValues: col.ticks, length: 6, lineStyle: { color: '#000', width: 1.2 } },
      axisLabel: { show: bottomRow, customValues: col.ticks, formatter: v => fmt(v, 1), color: '#000',
        fontFamily: FONT, fontSize: 17, margin: 12 }
    });
    yAxes.push({
      type: 'value', gridIndex: idx, min: yRange[r][0], max: yRange[r][1],
      axisLine: { show: false }, splitLine: { show: false },
      axisTick: { show: true, customValues: yTicks[r], length: 6, lineStyle: { color: '#000', width: 1.2 } },
      axisLabel: { show: c === 0, customValues: yTicks[r], formatter: v => fmt(v, yDec[r]), color: '#000',
        fontFamily: FONT, fontSize: 17, margin: 12 }
    });
  }
});
// colour bars
[cbL, cbR].forEach((cb, c) => {
  const idx = 6 + c;
  grids.push({ left: cb.left, top: rowTop[0], width: 7, height: rowH * 3, show: false, outerBoundsMode: 'none' });
  xAxes.push({ type: 'category', gridIndex: idx, data: ['cb'], show: false });
  yAxes.push({
    type: 'value', gridIndex: idx, position: 'right', min: cb.range[0], max: cb.range[1],
    axisLine: { show: false }, splitLine: { show: false },
    axisTick: { show: true, customValues: cb.ticks, length: 6, lineStyle: { color: '#000', width: 1.2 } },
    axisLabel: { customValues: cb.ticks, formatter: v => fmt(v, 0), color: '#000', fontFamily: FONT, fontSize: 18, margin: 12 }
  });
});

// ---------------- series ----------------
const sn = { color: 'rgba(0,0,0,0.11)', borderColor: 'rgba(0,0,0,0.28)', borderWidth: 1.4 };
const series = [];
series.push({ type: 'scatter', xAxisIndex: 0, yAxisIndex: 0, data: pantheonPts, symbolSize: 9, silent: true, z: 2, itemStyle: sn });
series.push({ type: 'scatter', xAxisIndex: 3, yAxisIndex: 3, data: dovekiePts, symbolSize: 9, silent: true, z: 2, itemStyle: sn });

series.push(curveSeries(0, panelShapes(panMu.map(c => pairs(zLeft, c)), levelsLeft, cbL.range, panMuMassU, panMuMassL)));
series.push(curveSeries(1, panelShapes(panDm.map(c => pairs(zLeft, c)), levelsLeft, cbL.range, panDmMassU, panDmMassL)));
series.push(curveSeries(2, panelShapes(panDp, levelsLeft, cbL.range, panDpMassU, panDpMassL)));
series.push(curveSeries(3, panelShapes(desMu.map(c => pairs(zRight, c)), levelsRight, cbR.range)));
series.push(curveSeries(4, panelShapes(desDm.map(c => pairs(zRight, c)), levelsRight, cbR.range)));
series.push(curveSeries(5, panelShapes(desDp.map(c => pairs(zRight, c)), levelsRight, cbR.range)));

for (let i = 0; i < 6; i++) series.push(refSeries(i, refVal[i % 3]));

series.push(...errSeries(1, desiZ, panPerp, panPerpErr));
series.push(...errSeries(2, desiZ, panPar, panParErr));
series.push(...errSeries(4, desiZ, desPerp, desPerpErr));
series.push(...errSeries(5, desiZ, desPar, desParErr));

[cbL, cbR].forEach((cb, c) => {
  const stops = VIRIDIS.map((col, i) => ({ offset: i / 10, color: col }));
  series.push({
    type: 'bar', xAxisIndex: 6 + c, yAxisIndex: 6 + c, data: [cb.range[0]], barWidth: '100%', silent: true,
    itemStyle: { color: new echarts.graphic.LinearGradient(0, rowTop[0], 0, rowTop[0] + rowH * 3, stops, true) }
  });
});

// ---------------- frames, titles, labels, legends ----------------
const graphic = [];
[colL, colR].forEach(col => {
  rowTop.forEach(t => graphic.push({ type: 'rect', z: 50, silent: true,
    shape: { x: col.left, y: t, width: col.width, height: rowH }, style: { fill: 'none', stroke: '#000', lineWidth: 1.3 } }));
});
[cbL, cbR].forEach(cb => graphic.push({ type: 'rect', z: 50, silent: true,
  shape: { x: cb.left, y: rowTop[0], width: 7, height: rowH * 3 }, style: { fill: 'none', stroke: '#000', lineWidth: 1 } }));

function txt(x, y, text, size, extra) {
  return { type: 'text', x: x, y: y, z: 60, silent: true,
    style: Object.assign({ text: text, fontFamily: FONT, fontSize: size, fill: '#000', align: 'center', verticalAlign: 'middle' }, extra || {}) };
}
graphic.push(txt(colL.left + colL.width / 2, 24, 'Pantheon+', 35));
graphic.push(txt(colR.left + colR.width / 2, 24, 'DES Dovekie', 35));
graphic.push(txt(colL.left + colL.width / 2, 777, 'z', 31, { fontStyle: 'italic' }));
graphic.push(txt(colR.left + colR.width / 2, 777, 'z', 31, { fontStyle: 'italic' }));

function richSet(main, sub) {
  return {
    i: { fontFamily: FONT, fontStyle: 'italic', fontSize: main, lineHeight: main + 10, verticalAlign: 'middle' },
    r: { fontFamily: FONT, fontSize: main, lineHeight: main + 10, verticalAlign: 'middle' },
    s: { fontFamily: FONT, fontStyle: 'italic', fontSize: sub, lineHeight: sub, verticalAlign: 'bottom' },
    p: { fontFamily: FONT, fontSize: sub, lineHeight: sub, verticalAlign: 'top' }
  };
}
function mathLabel(x, y, text, main, sub) {
  return { type: 'text', x: x, y: y, z: 60, rotation: Math.PI / 2, silent: true,
    style: { text: text, rich: richSet(main, sub), align: 'center', verticalAlign: 'middle', fill: '#000' } };
}
graphic.push(mathLabel(40, 157, '{i|\u03bc\u0302}{s|n}{r| \u2212 }{i|\u03bc}{s|f\u039bCDM}', 27, 19));
graphic.push(mathLabel(40, 383, '{i|D}{s|n}{r|/}{i|D}{s|f\u039bCDM}', 31, 21));
graphic.push(mathLabel(40, 606, "{i|D}{s|n}{r|'/}{i|D}{r|'}{s|f\u039bCDM}", 31, 21));
graphic.push(mathLabel(1133, 385, '{r|\u0394}{i|\u03c7}{p|2}{s|SNIa}', 29, 19));

function legendBox(x, y, w, h, label) {
  graphic.push({ type: 'rect', z: 70, silent: true, shape: { x: x, y: y, width: w, height: h, r: 5 },
    style: { fill: 'rgba(255,255,255,0.8)', stroke: 'rgba(204,204,204,0.9)', lineWidth: 1.3 } });
  const t = txt(x + 70, y + h / 2, label, 20.5, { align: 'left' });
  t.z = 71;
  graphic.push(t);
}
legendBox(131.5, 227, 195, 37, 'Pantheon+');
graphic.push({ type: 'circle', z: 71, silent: true, shape: { cx: 163, cy: 245.5, r: 4.5 }, style: { fill: 'rgba(0,0,0,0.11)', stroke: 'rgba(0,0,0,0.28)', lineWidth: 1.4 } });
legendBox(645, 227, 217.5, 37, 'DES Dovekie');
graphic.push({ type: 'circle', z: 71, silent: true, shape: { cx: 676, cy: 245.5, r: 4.5 }, style: { fill: 'rgba(0,0,0,0.11)', stroke: 'rgba(0,0,0,0.28)', lineWidth: 1.4 } });
legendBox(644, 285, 233, 39, 'DESI DR2 (\u2009\u22a5\u2009)');
legendBox(644, 508, 228, 40, 'DESI DR2 (\u2009\u2016\u2009)');
[304.5, 528].forEach(cy => {
  graphic.push({ type: 'line', z: 72, silent: true, shape: { x1: 675, y1: cy - 10, x2: 675, y2: cy + 10 }, style: { stroke: '#ff0000', lineWidth: 3.5 } });
  graphic.push({ type: 'circle', z: 72, silent: true, shape: { cx: 675, cy: cy, r: 6 }, style: { fill: '#ff0000' } });
});

const chart = echarts.init(document.getElementById('main'), null, { renderer: 'canvas' });
chart.setOption({
  animation: false,
  backgroundColor: '#fff',
  grid: grids,
  xAxis: xAxes,
  yAxis: yAxes,
  series: series,
  graphic: graphic
});
</script>
</body>
</html>
